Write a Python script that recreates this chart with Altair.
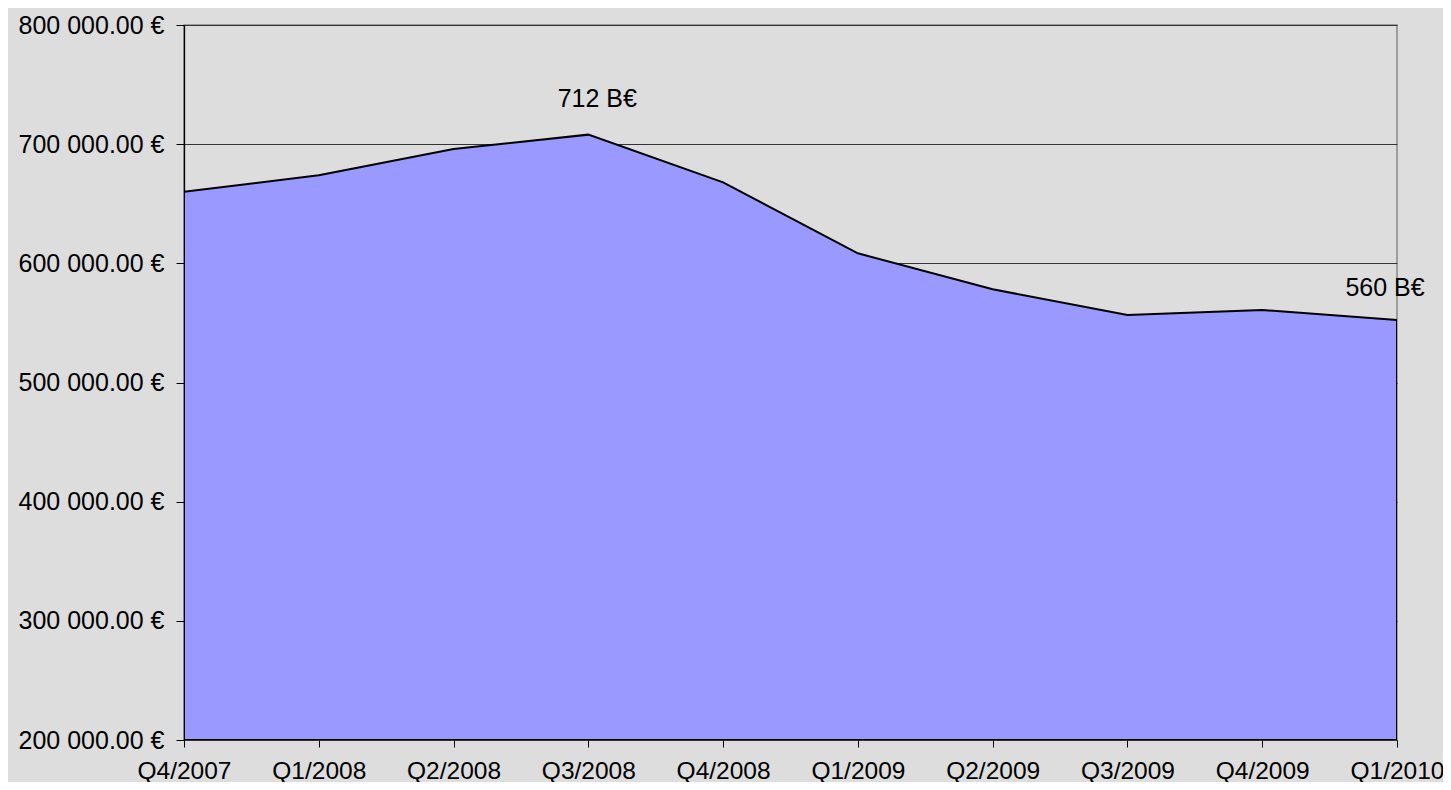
import altair as alt
import pandas as pd

quarters = ["Q4/2007", "Q1/2008", "Q2/2008", "Q3/2008", "Q4/2008",
            "Q1/2009", "Q2/2009", "Q3/2009", "Q4/2009", "Q1/2010"]
values = [660000, 674000, 696000, 708000, 668000,
          608400, 578200, 556700, 560800, 552500]
label_quarters = ["Q3/2008", "Q1/2010"]
label_texts = ["712 B€", "560 B€"]

df = pd.DataFrame({"q": quarters, "v": values})
lab = pd.DataFrame({"q": label_quarters, "v": [values[quarters.index(q)] for q in label_quarters],
                    "t": label_texts})

FONT = "Liberation Sans"

x_enc = alt.X("q:N", sort=quarters, title=None,
              scale=alt.Scale(type="point", padding=0),
              axis=alt.Axis(labelAngle=0, labelFontSize=24.5, labelFont=FONT, labelColor="black",
                            tickColor="black", tickSize=7, domain=False, labelPadding=12,
                            grid=False))
y_scale = alt.Scale(domain=[200000, 800000], zero=False, nice=False)
y_enc = alt.Y("v:Q", title=None, scale=y_scale,
              axis=alt.Axis(values=[200000, 300000, 400000, 500000, 600000, 700000, 800000],
                            labelExpr="replace(format(datum.value, ',.2f'), regexp(',', 'g'), ' ') + ' €'",
                            labelFontSize=25, labelFont=FONT, labelColor="black",
                            tickColor="black", tickSize=8, labelPadding=12,
                            domainColor="black", domainWidth=1.3,
                            grid=True, gridColor="#333333", gridWidth=1))

area = alt.Chart(df).mark_area(color="#9999FF", stroke="black", strokeWidth=2, clip=True).encode(
    x=x_enc, y=y_enc, y2=alt.datum(200000)
)

t1 = alt.Chart(lab[lab.q == "Q3/2008"]).mark_text(
    font=FONT, fontSize=25, color="black", dx=9, dy=-36, align="center", baseline="middle"
).encode(x=alt.X("q:N", sort=quarters), y=alt.Y("v:Q", scale=y_scale), text="t:N")

t2 = alt.Chart(lab[lab.q == "Q1/2010"]).mark_text(
    font=FONT, fontSize=25, color="black", dx=-12, dy=-32, align="center", baseline="middle"
).encode(x=alt.X("q:N", sort=quarters), y=alt.Y("v:Q", scale=y_scale), text="t:N")

chart = alt.layer(area, t1, t2).properties(
    width=1213, height=715,
    autosize=alt.AutoSizeParams(type="none"),
    padding={"left": 176, "top": 17, "right": 46, "bottom": 42},
    background="#DDDDDD",
).configure_view(stroke="#888888", strokeWidth=1.5)

chart.save("out.html", embed_options={"renderer": "svg", "actions": False})
